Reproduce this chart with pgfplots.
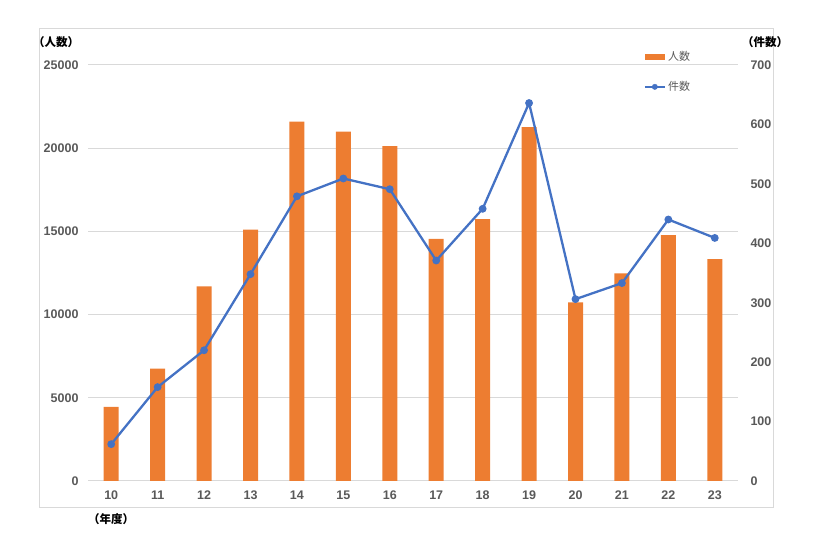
\documentclass[border=0pt]{standalone}
\usepackage{pgfplots}
\pgfplotsset{compat=1.18}
\usepackage{fontspec}
\setmainfont{Noto Sans CJK JP}
\newfontfamily\numfont{Liberation Sans}

\definecolor{barorange}{HTML}{ED7D31}
\definecolor{lineblue}{HTML}{4472C4}
\definecolor{gridgray}{HTML}{D9D9D9}
\definecolor{ticktext}{HTML}{595959}

% 人数 (bars, left axis)
\pgfplotstableread{
x  persons
0  4450
1  6750
2  11700
3  15100
4  21600
5  21000
6  20130
7  14550
8  15730
9  21270
10 10740
11 12480
12 14780
13 13340
}\persons
% 件数 (line, right axis)
\pgfplotstableread{
x  cases
0  62
1  158
2  220
3  348
4  479
5  509
6  491
7  371
8  458
9  636
10 306
11 333
12 440
13 409
}\cases

\pgfplotsset{
  common/.style={
    at={(88pt,67pt)}, anchor=south west,
    scale only axis, width=650pt, height=416pt,
    xmin=-0.5, xmax=13.5,
    axis line style={draw=none},
    tick style={draw=none},
    tick label style={font=\numfont\bfseries\fontsize{12.5}{14}\selectfont, text=ticktext},
    /pgf/number format/assume math mode=true,
    /pgf/number format/fixed,
    /pgf/number format/1000 sep={},
    scaled y ticks=false,
  },
  barlegend/.style={legend image code/.code={\fill[barorange] (0pt,-3pt) rectangle (20pt,3pt);}},
  linelegend/.style={legend image code/.code={\draw[lineblue, line width=2.3pt] (0pt,0pt) -- (20pt,0pt); \fill[lineblue] (10pt,0pt) circle (2.7pt);}},
}

\begin{document}
\begin{tikzpicture}[x=1pt,y=1pt]
\path[use as bounding box] (0,0) rectangle (814,548);
\draw[gridgray, line width=1pt] (39,40) rectangle (773,519);

\begin{axis}[
  common,
  ymin=0, ymax=25000,
  ytick={0,5000,...,25000},
  ymajorgrids,
  major grid style={gridgray, line width=1pt},
  xtick={0,...,13},
  xticklabels={10,11,12,13,14,15,16,17,18,19,20,21,22,23},
  xticklabel style={yshift=-6pt},
  yticklabel style={xshift=-6pt},
  legend style={at={(0.85,1.042)}, anchor=north west, draw=none, fill=none,
    font=\fontsize{11}{13}\selectfont, text=ticktext, row sep=15pt},
  legend cell align=left,
]
\addplot[ybar, bar width=15pt, fill=barorange, draw=none, barlegend]
  table[x=x, y=persons] {\persons};
\addlegendentry{人数}
\addlegendimage{linelegend}
\addlegendentry{件数}
\end{axis}

\begin{axis}[
  common,
  ymin=0, ymax=700,
  ytick={0,100,...,700},
  axis y line*=right,
  axis x line=none,
  yticklabel style={xshift=9pt},
]
\addplot[lineblue, line width=2.3pt, mark=*, mark size=2.7pt]
  table[x=x, y=cases] {\cases};
\end{axis}

\node[font=\bfseries\fontsize{11.5}{13}\selectfont] at (56,506) {（人数）};
\node[font=\bfseries\fontsize{11.5}{13}\selectfont] at (765,506) {（件数）};
\node[font=\bfseries\fontsize{11.5}{13}\selectfont] at (111,29) {（年度）};
\end{tikzpicture}
\end{document}
